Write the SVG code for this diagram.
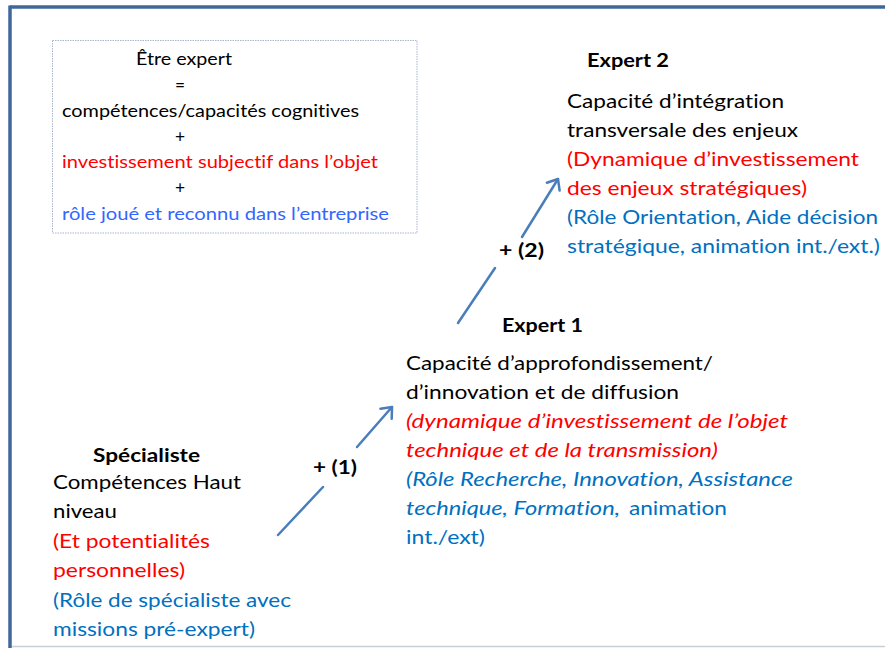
<svg xmlns="http://www.w3.org/2000/svg" width="885" height="648" viewBox="0 0 885 648">
<defs>
<marker id="open" markerUnits="userSpaceOnUse" markerWidth="24" markerHeight="24" refX="0" refY="0" viewBox="-12 -12 24 24" orient="auto" overflow="visible">
<path d="M-9,-7.5 L0,0 L-9,7.5" fill="none" stroke="#4A7EBB" stroke-width="2.5" stroke-linecap="round" stroke-linejoin="round"/>
</marker>
</defs>
<style>
text{font-family:Lato,"Open Sans","Liberation Sans",sans-serif;font-variant-ligatures:none;font-feature-settings:"liga" 0;}
.s{font-size:17.4px;}
.m{font-size:19.8px;}
.b{font-weight:bold;}
.i{font-style:italic;}
.k{fill:#000000;}
.r{fill:#FF0000;}
.bl{fill:#0070C0;}
.lb{fill:#3366FF;}
.arrow{stroke:#4A7EBB;stroke-width:2.5;fill:none;stroke-linecap:round;}
</style>
<rect width="885" height="648" fill="#ffffff"/>
<g id="frame">
<line x1="10" y1="7" x2="885" y2="7" stroke="#41679A" stroke-width="3.5"/>
<line x1="10" y1="5.5" x2="10" y2="648" stroke="#41679A" stroke-width="3.5"/>
<line x1="12" y1="646.5" x2="885" y2="646.5" stroke="#C9CED5" stroke-width="1.5"/>
</g>
<g id="connectors">
<g id="arrow1">
<line class="arrow" x1="278" y1="535" x2="323" y2="487"/>
<line class="arrow" x1="357" y1="447" x2="392" y2="407" marker-end="url(#open)"/>
</g>
<g id="arrow2">
<line class="arrow" x1="458" y1="323" x2="495" y2="268"/>
<line class="arrow" x1="522" y1="237" x2="558" y2="179" marker-end="url(#open)"/>
</g>
<text id="label1" class="m b k" x="313" y="474" textLength="44" lengthAdjust="spacingAndGlyphs">+ (1)</text>
<text id="label2" class="m b k" x="499" y="257" textLength="45" lengthAdjust="spacingAndGlyphs">+ (2)</text>
</g>
<g id="definition">
<rect x="52.5" y="40.5" width="364.5" height="192.5" fill="#ffffff" stroke="#A9B7CC" stroke-width="1" stroke-dasharray="1.5,1"/>
<text class="s k" x="136" y="65" textLength="96" lengthAdjust="spacingAndGlyphs">Être expert</text>
<text class="s k" x="180" y="91" text-anchor="middle">=</text>
<text class="s k" x="62" y="117" textLength="297" lengthAdjust="spacingAndGlyphs">compétences/capacités  cognitives</text>
<text class="s k" x="180" y="143" text-anchor="middle">+</text>
<text class="s r" x="62" y="168" textLength="316" lengthAdjust="spacingAndGlyphs">investissement subjectif dans l’objet</text>
<text class="s k" x="180" y="194" text-anchor="middle">+</text>
<text class="s lb" x="62" y="220" textLength="327" lengthAdjust="spacingAndGlyphs">rôle joué et reconnu dans l’entreprise</text>
</g>
<g id="expert2">
<text class="m b k" x="587" y="67" textLength="82" lengthAdjust="spacingAndGlyphs">Expert 2</text>
<text class="m k" x="567" y="108" textLength="217" lengthAdjust="spacingAndGlyphs">Capacité d’intégration</text>
<text class="m k" x="567" y="137" textLength="231" lengthAdjust="spacingAndGlyphs">transversale des enjeux</text>
<text class="m r" x="567" y="166" textLength="292" lengthAdjust="spacingAndGlyphs">(Dynamique d’investissement</text>
<text class="m r" x="567" y="195" textLength="240" lengthAdjust="spacingAndGlyphs">des enjeux stratégiques)</text>
<text class="m bl" x="567" y="224" textLength="311" lengthAdjust="spacingAndGlyphs">(Rôle Orientation, Aide décision</text>
<text class="m bl" x="567" y="253" textLength="313" lengthAdjust="spacingAndGlyphs">stratégique, animation int./ext.)</text>
</g>
<g id="expert1">
<text class="m b k" x="502" y="332" textLength="81" lengthAdjust="spacingAndGlyphs">Expert 1</text>
<text class="m k" x="406" y="370" textLength="307" lengthAdjust="spacingAndGlyphs">Capacité d’approfondissement/</text>
<text class="m k" x="406" y="399" textLength="273" lengthAdjust="spacingAndGlyphs">d’innovation et de diffusion</text>
<text class="m r i" x="406" y="428" textLength="382" lengthAdjust="spacingAndGlyphs">(dynamique  d’investissement  de  l’objet</text>
<text class="m r i" x="406" y="457" textLength="312" lengthAdjust="spacingAndGlyphs">technique  et  de  la  transmission)</text>
<text class="m bl i" x="406" y="486" textLength="387" lengthAdjust="spacingAndGlyphs">(Rôle  Recherche,  Innovation,  Assistance</text>
<text class="m bl i" x="406" y="515" textLength="214" lengthAdjust="spacingAndGlyphs">technique,  Formation,</text>
<text class="m bl" x="629" y="515" textLength="98" lengthAdjust="spacingAndGlyphs">animation</text>
<text class="m bl" x="406" y="544" textLength="79" lengthAdjust="spacingAndGlyphs">int./ext)</text>
</g>
<g id="specialiste">
<text class="m b k" x="93" y="462" textLength="107" lengthAdjust="spacingAndGlyphs">Spécialiste</text>
<text class="m k" x="53" y="489" textLength="188" lengthAdjust="spacingAndGlyphs">Compétences Haut</text>
<text class="m k" x="53" y="518" textLength="64" lengthAdjust="spacingAndGlyphs">niveau</text>
<text class="m r" x="53" y="548" textLength="157" lengthAdjust="spacingAndGlyphs">(Et potentialités</text>
<text class="m r" x="53" y="577" textLength="132" lengthAdjust="spacingAndGlyphs">personnelles)</text>
<text class="m bl" x="53" y="607" textLength="238" lengthAdjust="spacingAndGlyphs">(Rôle de spécialiste avec</text>
<text class="m bl" x="53" y="636" textLength="202" lengthAdjust="spacingAndGlyphs">missions pré-expert)</text>
</g>
</svg>
